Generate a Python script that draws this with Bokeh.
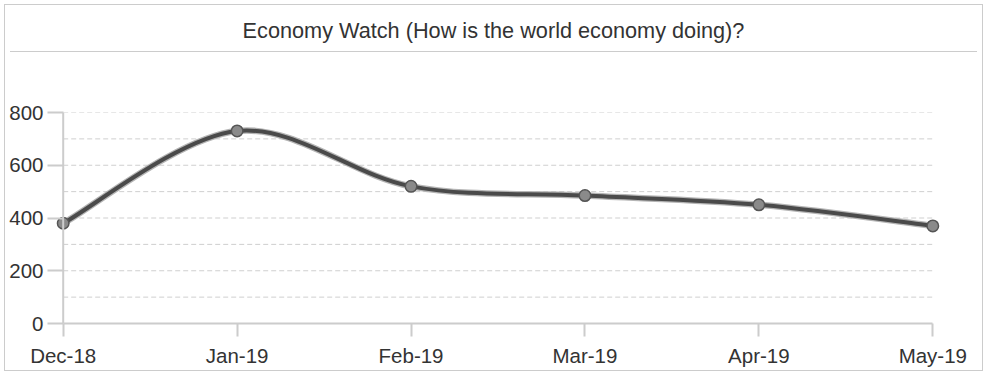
import numpy as np
from bokeh.plotting import figure
from bokeh.layouts import column
from bokeh.models import Range1d, SingleIntervalTicker, FixedTicker, Span, Div, ColumnDataSource
from bokeh.embed import file_html
from bokeh.resources import INLINE

# ---- data ----
months = ["Dec-18", "Jan-19", "Feb-19", "Mar-19", "Apr-19", "May-19"]
values = [380, 730, 520, 485, 450, 370]
grid_levels = [100, 200, 300, 400, 500, 600, 700, 800]
title_text = "Economy Watch (How is the world economy doing)?"

FONT = "Liberation Sans"
xs = np.arange(len(months), dtype=float)
ys = np.array(values, dtype=float)

# Catmull-Rom (cardinal) spline segments as cubic beziers through the data
P = np.concatenate([[ys[0]], ys, [ys[-1]]])
X = np.concatenate([[xs[0]], xs, [xs[-1]]])
seg = dict(
    x0=X[1:-2], y0=P[1:-2], x1=X[2:-1], y1=P[2:-1],
    cx0=X[1:-2] + (X[2:-1] - X[0:-3]) / 6.0, cy0=P[1:-2] + (P[2:-1] - P[0:-3]) / 6.0,
    cx1=X[2:-1] - (X[3:] - X[1:-2]) / 6.0, cy1=P[2:-1] - (P[3:] - P[1:-2]) / 6.0,
)
bsrc = ColumnDataSource(seg)

p = figure(width=967, height=313, output_backend="svg", toolbar_location=None,
           x_range=Range1d(-0.05, 5.05), y_range=Range1d(0, 800),
           min_border_left=49, min_border_right=31, min_border_top=55, min_border_bottom=47)
p.outline_line_color = None
p.background_fill_color = "white"
p.border_fill_color = "white"

# grid (dashed, from first to last category)
p.xgrid.grid_line_color = None
p.ygrid.grid_line_color = None
p.segment(x0=[xs[0]] * len(grid_levels), y0=grid_levels,
          x1=[xs[-1]] * len(grid_levels), y1=grid_levels,
          line_color="#cfcfcf", line_width=1, line_dash="5 3")

# x axis
p.xaxis.ticker = FixedTicker(ticks=list(xs))
p.xaxis.major_label_overrides = {i: m for i, m in enumerate(months)}
p.xaxis.bounds = (0, 5)
p.xaxis.axis_line_color = "#cccccc"
p.xaxis.axis_line_width = 2
p.xaxis.major_tick_line_color = "#cccccc"
p.xaxis.major_tick_line_width = 2
p.xaxis.major_tick_out = 13
p.xaxis.major_tick_in = 0
p.xaxis.minor_tick_line_color = None
p.xaxis.major_label_standoff = 7
p.xaxis.major_label_text_font = FONT
p.xaxis.major_label_text_font_size = "20.5px"
p.xaxis.major_label_text_color = "#333333"

# y axis
p.yaxis.ticker = SingleIntervalTicker(interval=200)
p.yaxis.axis_line_color = None
p.yaxis.major_tick_line_color = "#cccccc"
p.yaxis.major_tick_line_width = 2
p.yaxis.major_tick_out = 7
p.yaxis.major_tick_in = 9
p.yaxis.minor_tick_line_color = None
p.yaxis.major_label_standoff = 4
p.yaxis.major_label_text_font = FONT
p.yaxis.major_label_text_font_size = "20.5px"
p.yaxis.major_label_text_color = "#333333"
p.add_layout(Span(location=0, dimension="height", line_color="#cccccc", line_width=2))

# line with light halo
p.bezier(x0="x0", y0="y0", x1="x1", y1="y1", cx0="cx0", cy0="cy0", cx1="cx1", cy1="cy1",
         source=bsrc, line_color="#b5b5b5", line_width=6.5)
p.bezier(x0="x0", y0="y0", x1="x1", y1="y1", cx0="cx0", cy0="cy0", cx1="cx1", cy1="cy1",
         source=bsrc, line_color="#4a4a4a", line_width=4)
p.scatter(xs, ys, size=11.5, fill_color="#8a8a8a", line_color="#555555", line_width=1.5)

title = Div(text=title_text, width=967, height=42,
            styles={"text-align": "center", "font-size": "21.7px", "line-height": "42px",
                    "font-family": FONT, "color": "#333333",
                    "border-bottom": "1px solid #cccccc"})

layout = column(title, p, spacing=0,
                styles={"border": "1px solid #cccccc", "margin-left": "4px", "margin-top": "4px"})
open("out.html", "w").write(file_html(layout, INLINE))
